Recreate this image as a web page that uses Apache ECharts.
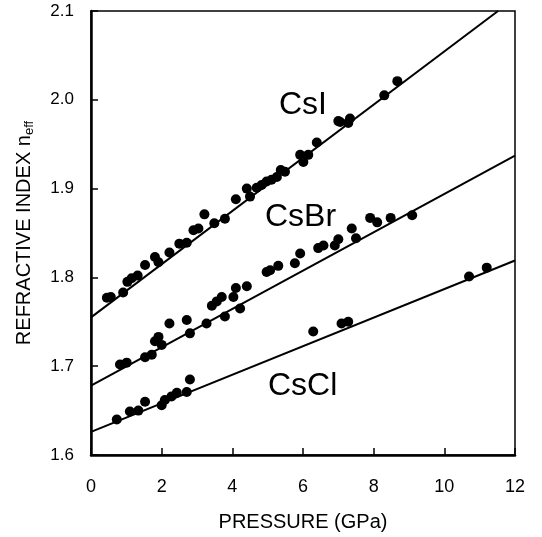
<!DOCTYPE html>
<html>
<head>
<meta charset="utf-8">
<script src="https://cdn.jsdelivr.net/npm/echarts@6/dist/echarts.min.js"></script>
<style>
  html, body { margin: 0; padding: 0; background: #fff; }
  #chart { width: 542px; height: 537px; }
</style>
</head>
<body>
<div id="chart"></div>
<script>
// pressure (GPa) and refractive index
const csiP = [0.45, 0.56, 0.91, 1.03, 1.15, 1.32, 1.53, 1.81, 1.91, 2.22, 2.50, 2.71, 2.90, 3.04, 3.21, 3.49, 3.79,
  4.10, 4.41, 4.50, 4.69, 4.83, 4.97, 5.11, 5.26, 5.37, 5.49, 5.92, 6.01, 6.15, 6.39, 7.00, 7.05, 7.28, 7.33, 8.30, 8.67]
const csiN = [1.777, 1.778, 1.783, 1.795, 1.799, 1.802, 1.814, 1.823, 1.817, 1.828, 1.838, 1.839, 1.853, 1.855, 1.871, 1.861, 1.866,
  1.888, 1.900, 1.891, 1.901, 1.904, 1.908, 1.910, 1.913, 1.921, 1.919, 1.938, 1.930, 1.938, 1.952, 1.976, 1.975, 1.974, 1.979, 2.005, 2.021]

const csbrP = [0.82, 1.01, 1.53, 1.72, 1.81, 1.91, 2.00, 2.22, 2.71, 2.80, 3.27, 3.42, 3.56, 3.70, 3.79, 4.03, 4.10, 4.22, 4.41,
  4.97, 5.07, 5.30, 5.77, 5.92, 6.43, 6.58, 6.90, 7.00, 7.38, 7.50, 7.90, 8.10, 8.48, 9.09]
const csbrN = [1.702, 1.704, 1.710, 1.713, 1.728, 1.733, 1.724, 1.748, 1.752, 1.737, 1.748, 1.768, 1.773, 1.778, 1.756, 1.778, 1.788, 1.765, 1.790,
  1.806, 1.808, 1.813, 1.816, 1.827, 1.833, 1.836, 1.836, 1.843, 1.855, 1.844, 1.867, 1.862, 1.867, 1.870]

const csclP = [0.73, 1.10, 1.34, 1.53, 2.00, 2.09, 2.28, 2.43, 2.71, 2.80, 6.29, 7.09, 7.28, 10.70, 11.20]
const csclN = [1.640, 1.649, 1.650, 1.660, 1.656, 1.662, 1.666, 1.670, 1.671, 1.685, 1.739, 1.748, 1.750, 1.801, 1.811]

// fitted lines, end points
const csiLine = [[0, 1.755], [11.52, 2.1]]
const csbrLine = [[0, 1.678], [12, 1.937]]
const csclLine = [[0, 1.626], [12, 1.819]]

const labels = ['CsI', 'CsBr', 'CsCl']

const font = 'Liberation Sans, Arial, Helvetica, sans-serif'
const pair = (xs, ys) => xs.map((x, i) => [x, ys[i]])

const dots = (name, xs, ys) => ({
  name: name,
  type: 'scatter',
  data: pair(xs, ys),
  symbol: 'circle',
  symbolSize: 10,
  itemStyle: { color: '#000', opacity: 1 },
  silent: true,
  z: 3
})
const fit = (name, pts) => ({
  name: name + ' fit',
  type: 'line',
  data: pts,
  symbol: 'none',
  lineStyle: { color: '#000', width: 2 },
  silent: true,
  z: 2
})

const chart = echarts.init(document.getElementById('chart'))
chart.setOption({
  animation: false,
  backgroundColor: '#fff',
  grid: {
    left: 91, right: 27, top: 11, bottom: 82,
    show: true, borderColor: '#000', borderWidth: 1.5, backgroundColor: 'transparent'
  },
  xAxis: {
    type: 'value',
    min: 0, max: 12, interval: 2,
    name: 'PRESSURE (GPa)',
    nameLocation: 'middle',
    nameGap: 57,
    nameTextStyle: { fontFamily: font, fontSize: 20, color: '#000' },
    axisLine: { show: true, onZero: false, lineStyle: { color: '#000', width: 2.5 } },
    axisTick: { inside: true, length: 7, lineStyle: { color: '#000', width: 1.5 } },
    axisLabel: { margin: 23, fontFamily: font, fontSize: 18, color: '#000' },
    splitLine: { show: false }
  },
  yAxis: {
    type: 'value',
    min: 1.6, max: 2.1, interval: 0.1,
    name: '{a|REFRACTIVE INDEX n}{s|eff}',
    nameLocation: 'middle',
    nameGap: 55,
    nameTextStyle: {
      rich: {
        a: { fontFamily: font, fontSize: 20, color: '#000' },
        s: { fontFamily: font, fontSize: 13, color: '#000', padding: [10, 0, 0, 0] }
      }
    },
    axisLine: { show: true, onZero: false, lineStyle: { color: '#000', width: 2.5 } },
    axisTick: { inside: true, length: 7, lineStyle: { color: '#000', width: 1.5 } },
    axisLabel: {
      margin: 17, fontFamily: font, fontSize: 17, color: '#000',
      formatter: v => v.toFixed(1)
    },
    splitLine: { show: false }
  },
  graphic: [
    { type: 'text', left: 279, top: 89, style: { text: labels[0], font: '32px ' + font, fill: '#000' } },
    { type: 'text', left: 265, top: 201, style: { text: labels[1], font: '32px ' + font, fill: '#000' } },
    { type: 'text', left: 268, top: 370, style: { text: labels[2], font: '32px ' + font, fill: '#000' } }
  ],
  series: [
    fit(labels[0], csiLine),
    fit(labels[1], csbrLine),
    fit(labels[2], csclLine),
    dots(labels[0], csiP, csiN),
    dots(labels[1], csbrP, csbrN),
    dots(labels[2], csclP, csclN)
  ]
})
</script>
</body>
</html>
